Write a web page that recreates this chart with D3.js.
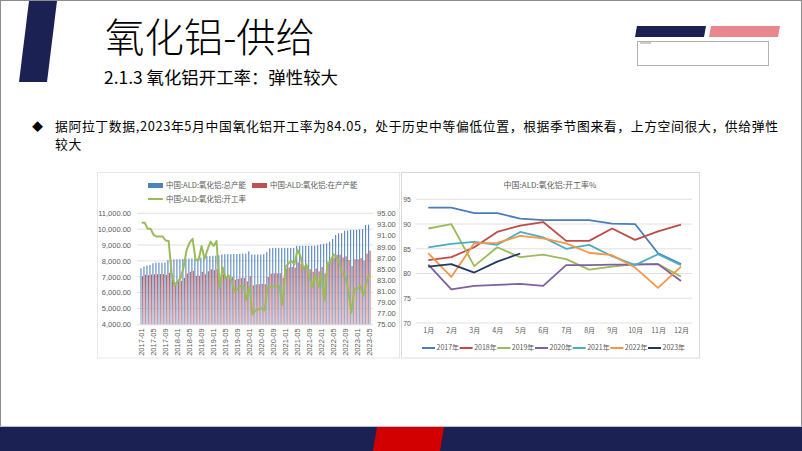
<!DOCTYPE html>
<html><head><meta charset="utf-8">
<script src="https://cdn.jsdelivr.net/npm/d3@7"></script>
<style>html,body{margin:0;padding:0;background:#fff;} svg{display:block;}</style>
</head><body>
<svg id="c" width="802" height="451"></svg>
<script>
// ---------------- DATA ----------------
const monthKeys = [
"2017-01","2017-02","2017-03","2017-04","2017-05","2017-06","2017-07","2017-08","2017-09","2017-10","2017-11","2017-12",
"2018-01","2018-02","2018-03","2018-04","2018-05","2018-06","2018-07","2018-08","2018-09","2018-10","2018-11","2018-12",
"2019-01","2019-02","2019-03","2019-04","2019-05","2019-06","2019-07","2019-08","2019-09","2019-10","2019-11","2019-12",
"2020-01","2020-02","2020-03","2020-04","2020-05","2020-06","2020-07","2020-08","2020-09","2020-10","2020-11","2020-12",
"2021-01","2021-02","2021-03","2021-04","2021-05","2021-06","2021-07","2021-08","2021-09","2021-10","2021-11","2021-12",
"2022-01","2022-02","2022-03","2022-04","2022-05","2022-06","2022-07","2022-08","2022-09","2022-10","2022-11","2022-12",
"2023-01","2023-02","2023-03","2023-04","2023-05"];
const xTickLabels = ["2017-01","2017-05","2017-09","2018-01","2018-05","2018-09","2019-01","2019-05","2019-09",
"2020-01","2020-05","2020-09","2021-01","2021-05","2021-09","2022-01","2022-05","2022-09","2023-01","2023-05"];
// 总产能
const capTotal = [
7530,7640,7700,7740,7850,7890,7890,7890,7900,8050,8080,8100,
8100,8100,8120,8150,8150,8150,8150,8150,8200,8250,8300,8300,
8320,8330,8350,8400,8420,8420,8420,8430,8430,8440,8450,8450,
8600,8400,8400,8400,8400,8420,8550,8800,8820,8820,8820,8820,
8820,8820,8820,8820,8950,8950,8950,8950,8950,8950,8950,8980,
9050,9080,9100,9200,9380,9630,9740,9750,9900,9920,9950,9950,
9950,9980,10000,10260,10280];
// 在产产能
const capOperating = [
7025,7128,7099,7136,7151,7164,7164,7164,7118,7245,6795,6634,
6699,6747,6926,7205,7311,7368,7058,7058,7306,7161,7346,7462,
7413,7497,6805,7165,7014,7056,6980,6811,6862,6912,6921,6709,
7035,6451,6510,6527,6544,6526,6985,7190,7215,7215,7224,6924,
7523,7585,7620,7568,7912,7813,7608,7679,7473,7312,7509,7337,
7611,7200,7835,7930,8217,8388,8386,8210,8286,8055,7671,8099,
8099,8174,8020,8454,8640];
// 开工率 by year (%)
const rate2017 = [93.3,93.3,92.2,92.2,91.1,90.8,90.8,90.8,90.1,90.0,84.1,81.9];
const rate2018 = [82.7,83.3,85.3,88.4,89.7,90.4,86.6,86.6,89.1,86.8,88.5,89.9];
const rate2019 = [89.1,90.0,81.5,85.3,83.3,83.8,82.9,80.8,81.4,81.9,81.9,79.4];
const rate2020 = [81.8,76.8,77.5,77.7,77.9,77.5,81.7,81.7,81.8,81.8,81.9,78.5];
const rate2021 = [85.3,86.0,86.4,85.8,88.4,87.3,85.0,85.8,83.5,81.7,83.9,81.7];
const rate2022 = [84.1,79.3,86.1,86.2,87.6,87.1,86.1,84.2,83.7,81.2,77.1,81.4];
const rate2023 = [81.4,81.9,80.2,82.4,84.05];
const monthLabels = ["1月","2月","3月","4月","5月","6月","7月","8月","9月","10月","11月","12月"];
const yearLabels = ["2017年","2018年","2019年","2020年","2021年","2022年","2023年"];
const yearColors = ["#4a7ebb","#be4b48","#9bbb59","#7f60a0","#4bacc6","#f79646","#1f3864"];
const leftTicks = [4000,5000,6000,7000,8000,9000,10000,11000];
const rightTicks = [75,77,79,81,83,85,87,89,91,93,95];
const seasonTicks = [70,75,80,85,90,95];

// ---------------- DRAW ----------------
const svg = d3.select("#c");
const CN = "'Noto Sans CJK SC','Noto Sans',sans-serif";
const NUM = "'Liberation Sans','DejaVu Sans',sans-serif";
const NAVY = "#1b2152";
const GRAY = "#595959";

svg.append("rect").attr("x",0.5).attr("y",0.5).attr("width",801).attr("height",450)
  .attr("fill","#fff").attr("stroke","#8c8c8c");

// header
svg.append("polygon").attr("points","29,1 57,1 47,82 19,82").attr("fill",NAVY);
svg.append("text").attr("x",105).attr("y",52).attr("font-family",CN).attr("font-size",40)
  .attr("font-weight",300).attr("textLength",210).attr("lengthAdjust","spacingAndGlyphs")
  .attr("fill","#000").text("氧化铝-供给");
svg.append("text").attr("x",104).attr("y",84).attr("font-family",CN).attr("font-size",17)
  .attr("textLength",234).attr("lengthAdjust","spacingAndGlyphs")
  .attr("fill","#000").text("2.1.3 氧化铝开工率：弹性较大");
svg.append("polygon").attr("points","637,26 706,26 704,37 635,37").attr("fill",NAVY);
svg.append("polygon").attr("points","711,26 780,26 778,37 709,37").attr("fill","#e8878d");
svg.append("rect").attr("x",637.5).attr("y",41.5).attr("width",131).attr("height",24)
  .attr("fill","#fff").attr("stroke","#b3b3b3");
svg.append("rect").attr("x",640).attr("y",42.5).attr("width",11).attr("height",1).attr("fill","#9a9a9a");

// bullet text
svg.append("text").attr("x",32).attr("y",131).attr("font-family",CN).attr("font-size",11).attr("fill","#000").text("◆");
svg.append("text").attr("x",55).attr("y",131).attr("font-family",CN).attr("font-size",12.8)
  .attr("letter-spacing",0.65).attr("fill","#000")
  .text("据阿拉丁数据,2023年5月中国氧化铝开工率为84.05，处于历史中等偏低位置，根据季节图来看，上方空间很大，供给弹性");
svg.append("text").attr("x",55).attr("y",149).attr("font-family",CN).attr("font-size",12.8)
  .attr("letter-spacing",0.65).attr("fill","#000").text("较大");

// footer
svg.append("rect").attr("x",0).attr("y",427).attr("width",802).attr("height",24).attr("fill",NAVY);
svg.append("line").attr("x1",0).attr("x2",802).attr("y1",426.5).attr("y2",426.5).attr("stroke","#b9bfd3");
svg.append("polygon").attr("points","377,427 444,427 440,451 373,451").attr("fill","#d20000");

// ---------- left chart ----------
const gL = svg.append("g");
gL.append("rect").attr("x",97.5).attr("y",172.5).attr("width",302).attr("height",185.5)
  .attr("fill","#fff").attr("stroke","#e6e6e6");
const xL = d3.scaleBand().domain(monthKeys).range([140.2,370.8]);
const xSub = d3.scaleBand().domain(["total","op"]).range([0,xL.bandwidth()]).paddingInner(0.25).paddingOuter(0.15);
const yL = d3.scaleLinear().domain([4000,11000]).range([324.3,213.3]);
const yR = d3.scaleLinear().domain([75,95]).range([324.3,213.3]);

gL.selectAll("line.grid").data(leftTicks).join("line").attr("class","grid")
  .attr("x1",137).attr("x2",373).attr("y1",d=>yL(d)).attr("y2",d=>yL(d))
  .attr("stroke","#d9d9d9").attr("stroke-width",0.8);

const defs = svg.append("defs");
const lgB = defs.append("linearGradient").attr("id","gb").attr("x1",0).attr("x2",0).attr("y1",0).attr("y2",1);
lgB.append("stop").attr("offset","0%").attr("stop-color","#4f81bd");
lgB.append("stop").attr("offset","100%").attr("stop-color","#8fb0dc");
const lgR = defs.append("linearGradient").attr("id","gr").attr("x1",0).attr("x2",0).attr("y1",0).attr("y2",1);
lgR.append("stop").attr("offset","0%").attr("stop-color","#c0504d");
lgR.append("stop").attr("offset","100%").attr("stop-color","#df9a99");

gL.selectAll("rect.bt").data(capTotal).join("rect").attr("class","bt")
  .attr("x",(d,i)=>xL(monthKeys[i])+xSub("total")).attr("width",xSub.bandwidth())
  .attr("y",d=>yL(d)).attr("height",d=>yL(4000)-yL(d)).attr("fill","url(#gb)");
gL.selectAll("rect.bo").data(capOperating).join("rect").attr("class","bo")
  .attr("x",(d,i)=>xL(monthKeys[i])+xSub("op")).attr("width",xSub.bandwidth())
  .attr("y",d=>yL(d)).attr("height",d=>yL(4000)-yL(d)).attr("fill","url(#gr)");

const rateAll = [].concat(rate2017,rate2018,rate2019,rate2020,rate2021,rate2022,rate2023);
gL.append("path").datum(rateAll)
  .attr("d",d3.line().x((d,i)=>xL(monthKeys[i])+xL.bandwidth()/2).y(d=>yR(d)))
  .attr("fill","none").attr("stroke","#9bbb59").attr("stroke-width",2).attr("stroke-linejoin","round");

const axL = gL.append("g").attr("transform","translate(137,0)")
  .call(d3.axisLeft(yL).tickValues(leftTicks).tickFormat(d3.format(",.2f")).tickSize(0).tickPadding(6));
axL.select(".domain").remove();
axL.selectAll("text").attr("font-family",NUM).attr("font-size",7.5).attr("fill",GRAY);

const axR = gL.append("g").attr("transform","translate(373,0)")
  .call(d3.axisRight(yR).tickValues(rightTicks).tickFormat(d3.format(".2f")).tickSize(0).tickPadding(4));
axR.select(".domain").remove();
axR.selectAll("text").attr("font-family",NUM).attr("font-size",7.5).attr("fill",GRAY);

const axX = gL.append("g").attr("transform","translate(0,324.3)")
  .call(d3.axisBottom(xL).tickValues(xTickLabels).tickSize(0));
axX.select(".domain").attr("stroke","#d9d9d9");
axX.selectAll("text").attr("y",0).attr("x",-4).attr("dy","0.35em").attr("transform","rotate(-90)")
  .attr("text-anchor","end").attr("font-family",NUM).attr("font-size",7.5).attr("fill",GRAY);

// legend left
const legL = [
  {t:"中国:ALD:氧化铝:总产能", x:148, y:185.5, type:"rect", c:"#4f81bd"},
  {t:"中国:ALD:氧化铝:在产产能", x:252, y:185.5, type:"rect", c:"#c0504d"},
  {t:"中国:ALD:氧化铝:开工率", x:148, y:199, type:"line", c:"#9bbb59"}];
legL.forEach(l=>{
  if(l.type==="rect") gL.append("rect").attr("x",l.x).attr("y",l.y-2.5).attr("width",15).attr("height",5).attr("fill",l.c);
  else gL.append("line").attr("x1",l.x).attr("x2",l.x+15).attr("y1",l.y).attr("y2",l.y).attr("stroke",l.c).attr("stroke-width",2);
  gL.append("text").attr("x",l.x+18).attr("y",l.y).attr("dy","0.35em").attr("font-family",CN)
    .attr("font-size",7.5).attr("fill",GRAY).text(l.t);
});

// ---------- right chart ----------
const gR = svg.append("g");
gR.append("rect").attr("x",401.5).attr("y",172.5).attr("width",298).attr("height",185.5)
  .attr("fill","#fff").attr("stroke","#d9d9d9");
gR.append("text").attr("x",550).attr("y",185).attr("dy","0.35em").attr("text-anchor","middle")
  .attr("font-family",CN).attr("font-size",8).attr("fill",GRAY).text("中国:ALD:氧化铝:开工率%");
const xM = d3.scalePoint().domain(monthLabels).range([428.3,681]);
const yM = d3.scaleLinear().domain([70,95]).range([323,199.3]);
gR.selectAll("line.grid").data(seasonTicks).join("line").attr("class","grid")
  .attr("x1",416).attr("x2",692).attr("y1",d=>yM(d)).attr("y2",d=>yM(d))
  .attr("stroke","#d9d9d9").attr("stroke-width",0.8);
const axM = gR.append("g").attr("transform","translate(414,0)")
  .call(d3.axisLeft(yM).tickValues(seasonTicks).tickSize(0).tickPadding(3));
axM.select(".domain").remove();
axM.selectAll("text").attr("font-family",NUM).attr("font-size",7).attr("fill",GRAY);
const axMX = gR.append("g").attr("transform","translate(0,323)")
  .call(d3.axisBottom(xM).tickSize(0).tickPadding(5));
axMX.select(".domain").remove();
axMX.selectAll("text").attr("font-family",CN).attr("font-size",7).attr("fill",GRAY);

const yearSeries = [rate2017,rate2018,rate2019,rate2020,rate2021,rate2022,rate2023];
const lineM = d3.line().x((d,i)=>xM(monthLabels[i])).y(d=>yM(d));
yearSeries.forEach((s,k)=>{
  gR.append("path").datum(s).attr("d",lineM).attr("fill","none")
    .attr("stroke",yearColors[k]).attr("stroke-width",1.8).attr("stroke-linejoin","round");
});
yearLabels.forEach((t,k)=>{
  const x0 = 422 + 37.67*k;
  gR.append("line").attr("x1",x0).attr("x2",x0+13).attr("y1",348).attr("y2",348)
    .attr("stroke",yearColors[k]).attr("stroke-width",2);
  gR.append("text").attr("x",x0+14.5).attr("y",348).attr("dy","0.35em").attr("font-family",CN)
    .attr("font-size",7).attr("fill",GRAY).text(t);
});
</script>
</body></html>
